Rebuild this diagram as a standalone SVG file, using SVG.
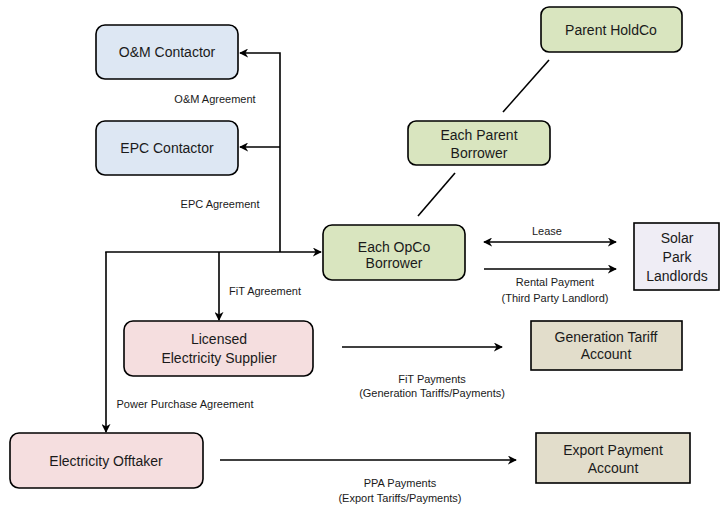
<svg xmlns="http://www.w3.org/2000/svg" width="721" height="508" viewBox="0 0 721 508">
<style>
text{font-family:"Liberation Sans",Arial,sans-serif;fill:#1a1a1a;text-anchor:middle}
.n{font-size:14px}
.l{font-size:11px}
.box{stroke:#000;stroke-width:1.6}
.blue{fill:#dde7f3}
.green{fill:#d9e5bf}
.pink{fill:#f5dedf}
.tan{fill:#e2ddcb}
.lav{fill:#efedf5}
.c{fill:none;stroke:#000;stroke-width:1.6}
</style>
<defs>
<marker id="ah" viewBox="0 0 10 10" refX="9" refY="5" markerWidth="9" markerHeight="9" markerUnits="userSpaceOnUse" orient="auto-start-reverse">
<path d="M0,0 L10,5 L0,10 L3,5 Z" fill="#000"/>
</marker>
</defs>
<g id="connectors">
<polyline class="c" points="280,252 280,53 240,53" marker-end="url(#ah)"/>
<line class="c" x1="280" y1="147" x2="240" y2="147" marker-end="url(#ah)"/>
<line class="c" x1="105.2" y1="252" x2="321" y2="252" marker-end="url(#ah)"/>
<line class="c" x1="106" y1="252" x2="106" y2="432" marker-end="url(#ah)"/>
<line class="c" x1="219" y1="252" x2="219" y2="320" marker-end="url(#ah)"/>
<line class="c" x1="549" y1="60" x2="503" y2="112"/>
<line class="c" x1="455" y1="173" x2="418" y2="216"/>
<line class="c" x1="484" y1="242" x2="616" y2="242" marker-start="url(#ah)" marker-end="url(#ah)"/>
<line class="c" x1="484" y1="269" x2="616" y2="269" marker-end="url(#ah)"/>
<line class="c" x1="342" y1="347" x2="502" y2="347" marker-end="url(#ah)"/>
<line class="c" x1="220" y1="460" x2="516" y2="460" marker-end="url(#ah)"/>
<text class="l" x="215" y="103">O&amp;M Agreement</text>
<text class="l" x="220" y="208">EPC Agreement</text>
<text class="l" x="265" y="295">FiT Agreement</text>
<text class="l" x="185" y="408">Power Purchase Agreement</text>
<text class="l" x="547" y="235">Lease</text>
<text class="l" x="555" y="286">Rental Payment</text>
<text class="l" x="555" y="302">(Third Party Landlord)</text>
<text class="l" x="432" y="383">FiT Payments</text>
<text class="l" x="432" y="397">(Generation Tariffs/Payments)</text>
<text class="l" x="400" y="487">PPA Payments</text>
<text class="l" x="400" y="502">(Export Tariffs/Payments)</text>
</g>
<g id="om">
<rect class="box blue" x="96" y="25" width="142" height="54" rx="9"/>
<text class="n" x="167" y="57">O&amp;M Contactor</text>
</g>
<g id="epc">
<rect class="box blue" x="96" y="121" width="142" height="54" rx="9"/>
<text class="n" x="167" y="153">EPC Contactor</text>
</g>
<g id="parent-holdco">
<rect class="box green" x="541" y="7" width="141" height="45" rx="8"/>
<text class="n" x="611" y="35">Parent HoldCo</text>
</g>
<g id="parent-borrower">
<rect class="box green" x="408" y="121" width="142" height="44" rx="8"/>
<text class="n" x="479" y="140">Each Parent</text>
<text class="n" x="479" y="158">Borrower</text>
</g>
<g id="opco">
<rect class="box green" x="323" y="225" width="142" height="55" rx="9"/>
<text class="n" x="394" y="252">Each OpCo</text>
<text class="n" x="394" y="268">Borrower</text>
</g>
<g id="landlords">
<rect class="box lav" x="634" y="223" width="85" height="67"/>
<text class="n" x="677" y="243">Solar</text>
<text class="n" x="677" y="262">Park</text>
<text class="n" x="677" y="281">Landlords</text>
</g>
<g id="supplier">
<rect class="box pink" x="124" y="321" width="189" height="55" rx="9"/>
<text class="n" x="219" y="344">Licensed</text>
<text class="n" x="219" y="363">Electricity Supplier</text>
</g>
<g id="gen-tariff">
<rect class="box tan" x="531" y="321" width="151" height="49"/>
<text class="n" x="606" y="342">Generation Tariff</text>
<text class="n" x="606" y="359">Account</text>
</g>
<g id="offtaker">
<rect class="box pink" x="10" y="433" width="193" height="55" rx="9"/>
<text class="n" x="106" y="466">Electricity Offtaker</text>
</g>
<g id="export">
<rect class="box tan" x="536" y="433" width="154" height="50"/>
<text class="n" x="613" y="455">Export Payment</text>
<text class="n" x="613" y="473">Account</text>
</g>
</svg>
